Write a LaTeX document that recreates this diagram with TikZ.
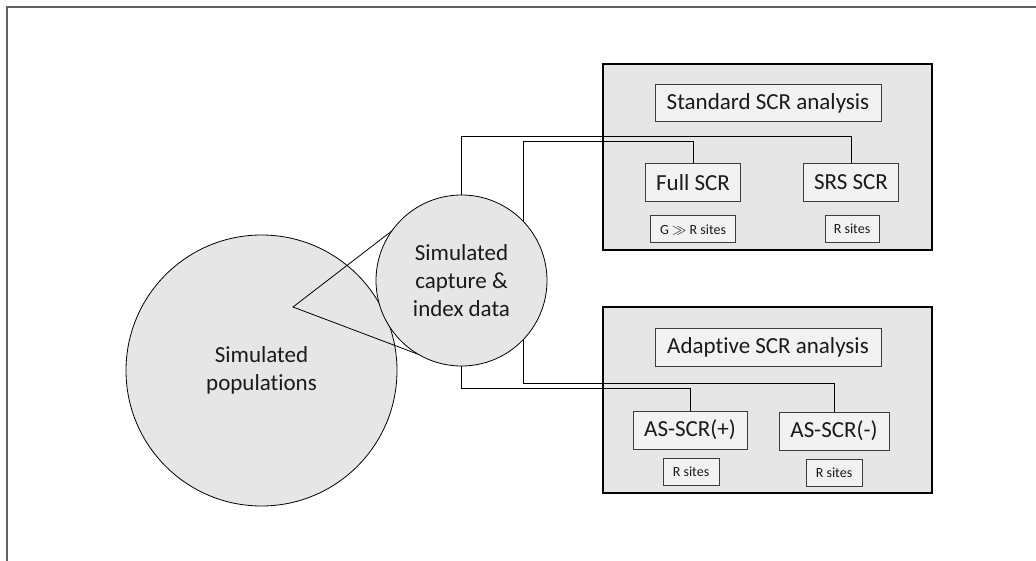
\documentclass[tikz,border=0pt]{standalone}
\usepackage{fontspec}
\setmainfont{Carlito}[Ligatures={NoCommon}]
\definecolor{fillgray}{HTML}{E6E6E6}
\definecolor{boxgray}{HTML}{F2F2F2}
\definecolor{framegray}{HTML}{606060}
\definecolor{edgegray}{HTML}{3C3C3C}
\definecolor{textgray}{HTML}{1A1A1A}
\begin{document}
\begin{tikzpicture}[x=1pt,y=-1pt,
  blob/.style={circle,draw=black,fill=fillgray,line width=0.8pt,inner sep=0pt,align=center,text=textgray,font=\fontsize{23}{28}\selectfont},
  panel/.style={draw=black,fill=fillgray,line width=1.3pt,inner sep=0pt,minimum width=329pt,minimum height=186pt},
  titlebox/.style={draw=edgegray,fill=boxgray,line width=1pt,inner sep=0pt,minimum height=37pt,text=textgray,font=\fontsize{23}{28}\selectfont},
  methodbox/.style={titlebox,minimum height=38pt},
  sitebox/.style={draw=edgegray,fill=boxgray,line width=1pt,inner sep=0pt,minimum height=27pt,text=textgray,font=\fontsize{14}{17}\selectfont},
  link/.style={draw=black,line width=0.8pt},
  frameline/.style={draw=framegray,line width=1.6pt}]
\useasboundingbox (0,0) rectangle (1036,561);
% partial frame
\draw[frameline] (7,561) -- (7,7) -- (1036,7);

% panels
\node[panel] (stdpanel) at (767.5,157) {};
\node[panel] (adppanel) at (767.5,400) {};

% circles
\node[blob,minimum size=271pt] (pop) at (261.5,370.5) {Simulated\\populations};
\coordinate (apex) at (293,307);
\coordinate (tanup) at (410,217);
\coordinate (tanlow) at (428,358);
\draw[link] (tanup) -- (apex) -- (tanlow);
\node[blob,minimum size=171pt] (cap) at (461.5,280.5) {Simulated\\capture \&\\index data};

% standard panel contents
\node[titlebox,minimum width=226pt] (stdtitle) at (768,103.5) {Standard SCR analysis};
\node[methodbox,minimum width=95pt] (full) at (693,183) {Full SCR};
\node[methodbox,minimum width=95pt] (srs) at (851,182.5) {SRS SCR};
\node[sitebox,minimum width=85pt] (fullsites) at (693,229.5) {G $\gg$ R sites};
\node[sitebox,minimum width=54pt] (srssites) at (852,229) {R sites};

% adaptive panel contents
\node[titlebox,minimum width=226pt,minimum height=38pt] (adptitle) at (768,347) {Adaptive SCR analysis};
\node[methodbox,minimum width=114pt] (asplus) at (690,430) {AS-SCR(+)};
\node[methodbox,minimum width=110pt] (asminus) at (834,431) {AS-SCR(-)};
\node[sitebox,minimum width=56pt] (plussites) at (691,472) {R sites};
\node[sitebox,minimum width=56pt] (minussites) at (834,472.5) {R sites};

% elbow heights
\coordinate (h1) at (0,136);
\coordinate (h2) at (0,141);
\coordinate (h3) at (0,388);
\coordinate (h4) at (0,383);

% connectors
\draw[link] (cap.north) |- (srs.north |- h1) -- (srs.north);
\draw[link] (cap.44) |- (full.north |- h2) -- (full.north);
\draw[link] (cap.south) |- (asplus.north |- h3) -- (asplus.north);
\draw[link] (cap.-44) |- (asminus.north |- h4) -- (asminus.north);
\end{tikzpicture}
\end{document}
